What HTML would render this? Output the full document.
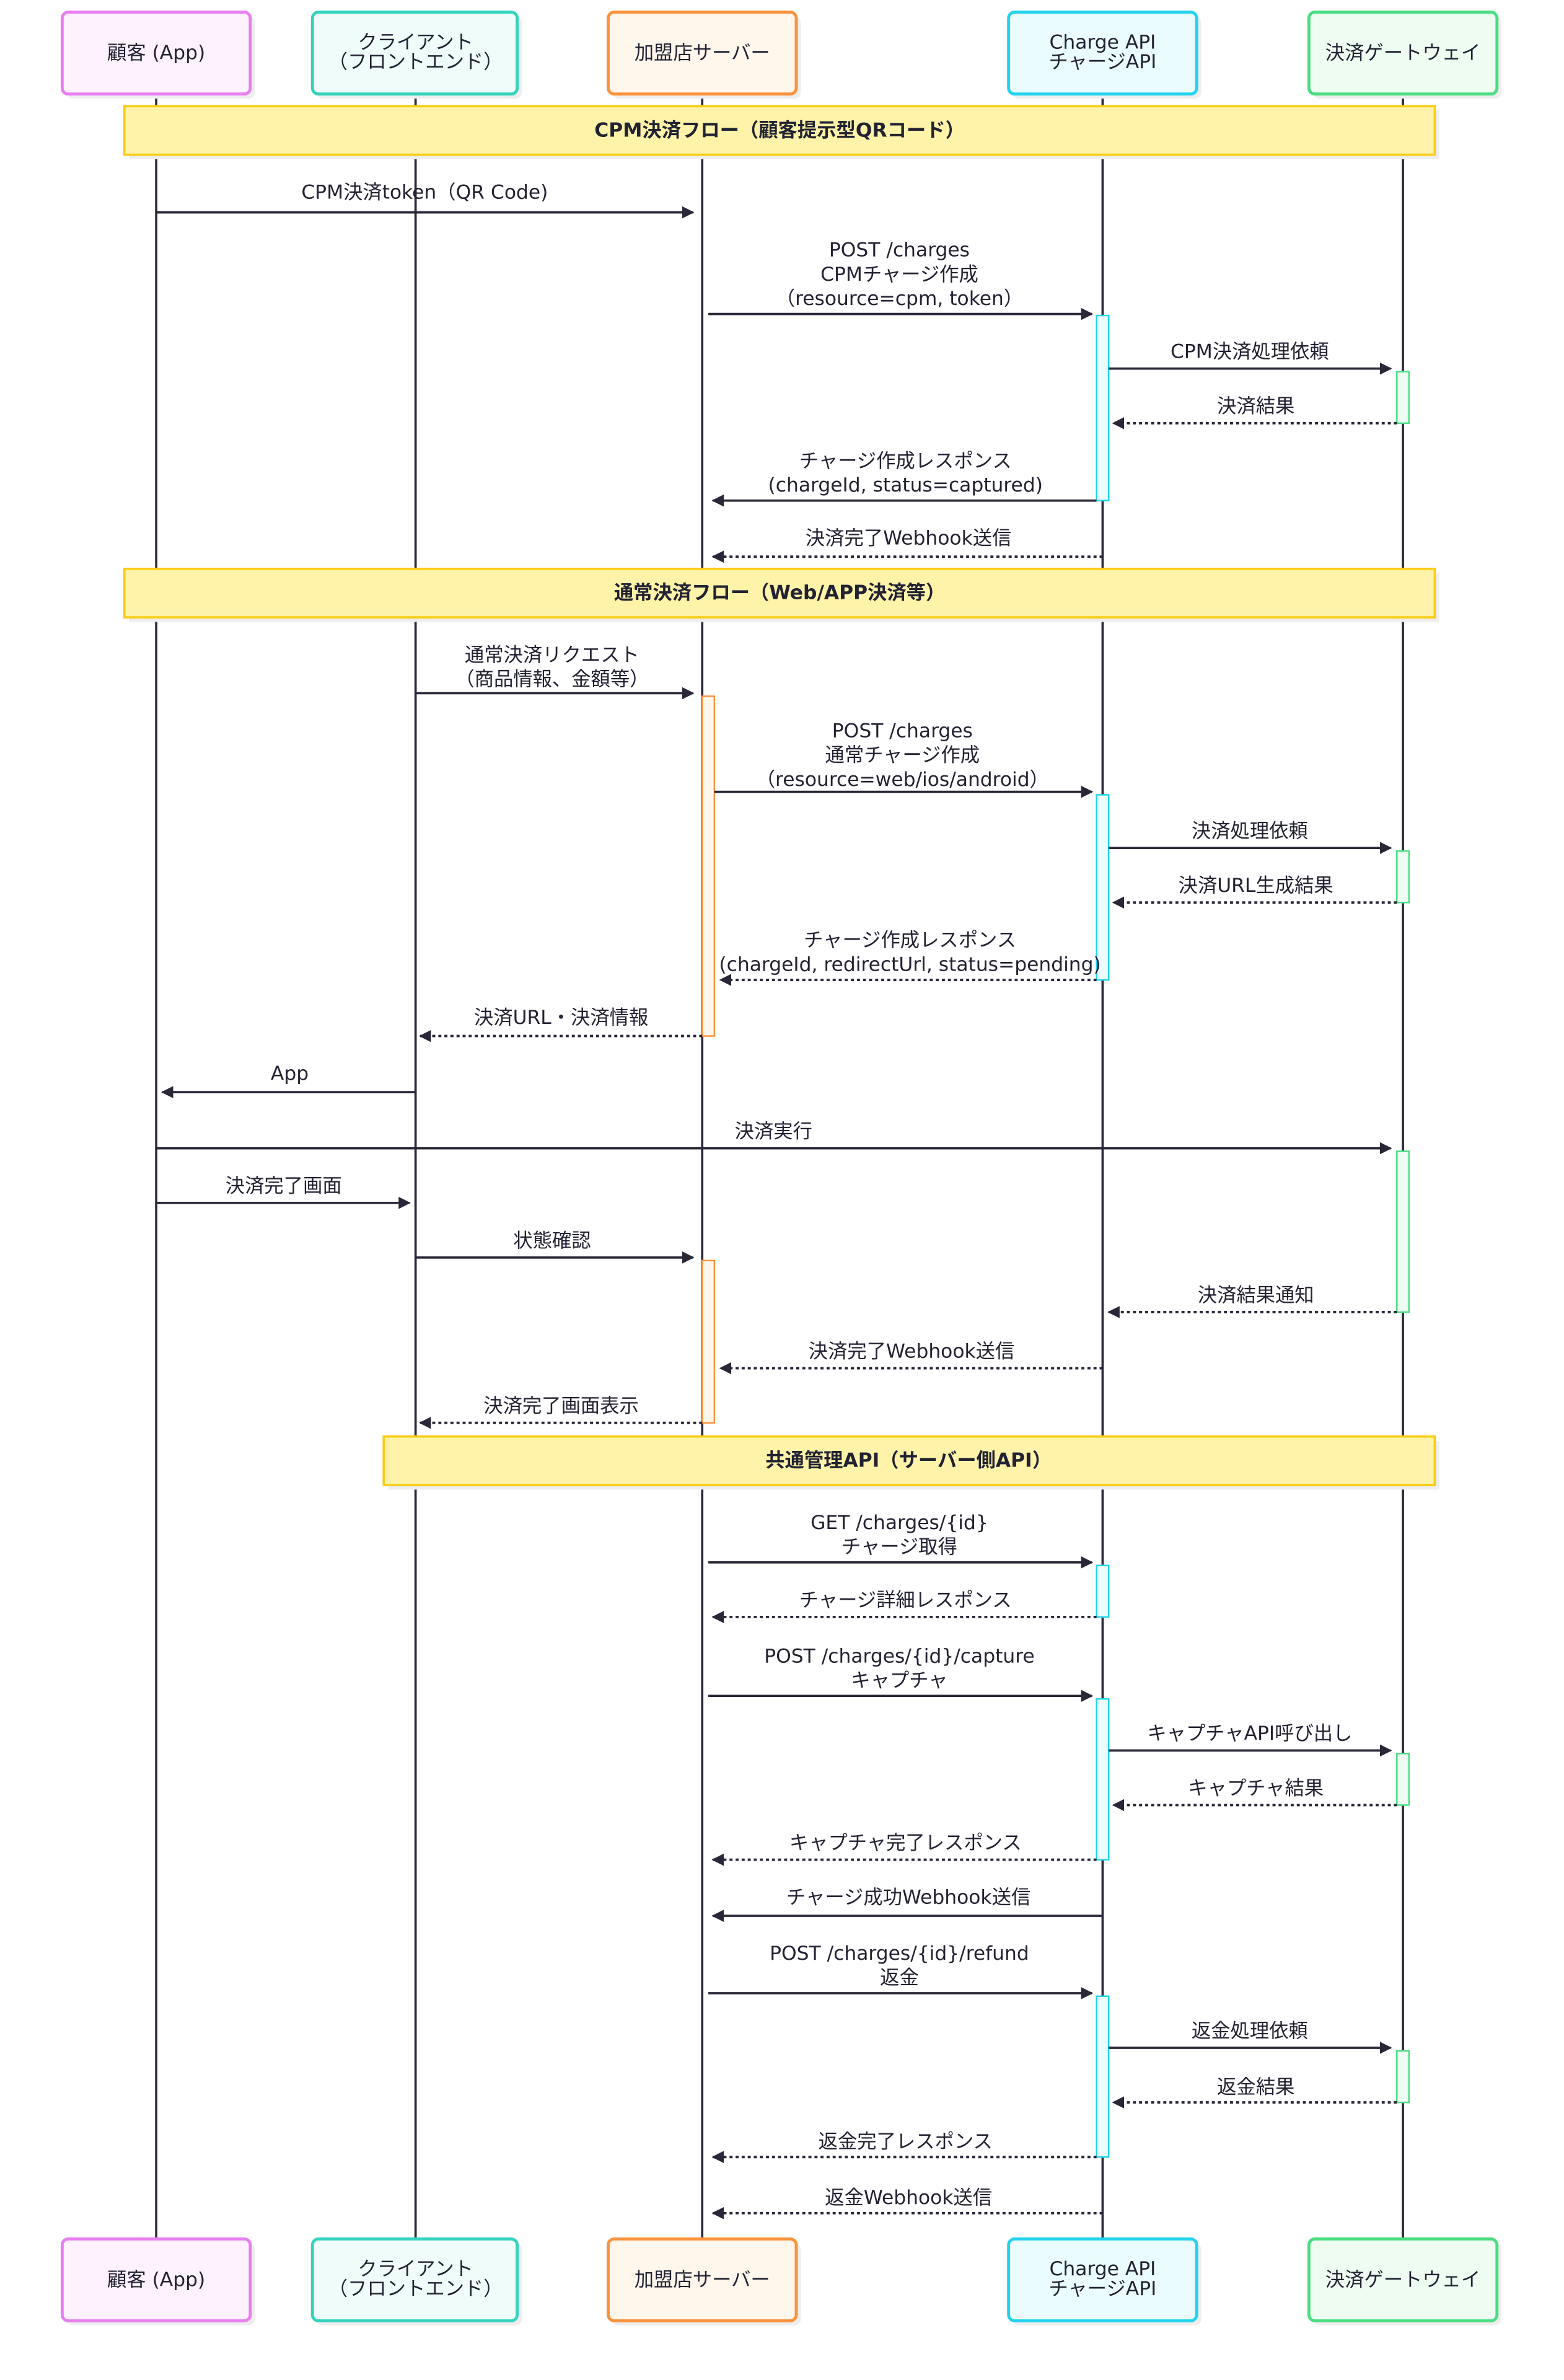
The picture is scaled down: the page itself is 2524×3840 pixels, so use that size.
<!DOCTYPE html>
<html><head><meta charset="utf-8"><style>
html,body{margin:0;padding:0;background:#fff;}
svg{display:block;}
text{font-family:"DejaVu Sans","Noto Sans CJK JP",sans-serif;font-size:12.8px;fill:#222233;text-anchor:middle;}
.b{font-weight:bold;}
.l{stroke:#2a2738;stroke-width:1.5;fill:none;}
.d{stroke:#2a2738;stroke-width:1.6;stroke-dasharray:2,2;fill:none;}
</style></head><body>
<svg width="2524" height="3840" viewBox="0 0 1031.2 1569" preserveAspectRatio="none" xmlns="http://www.w3.org/2000/svg">
<defs>
<marker id="a" viewBox="0 0 10 10" refX="9" refY="5" markerWidth="8" markerHeight="8" orient="auto-start-reverse" markerUnits="userSpaceOnUse"><path d="M0,0 L10,5 L0,10 z" fill="#2a2738"/></marker>
</defs>
<g stroke="#2a2738" stroke-width="1.5">
<line x1="103" y1="62" x2="103" y2="1476"/><line x1="274" y1="62" x2="274" y2="1476"/>
<line x1="463" y1="62" x2="463" y2="1476"/><line x1="727" y1="62" x2="727" y2="1476"/>
<line x1="925" y1="62" x2="925" y2="1476"/>
</g>
<g fill="#eeeeee"><rect x="44" y="11" width="124" height="54" rx="4"/><rect x="209" y="11" width="135" height="54" rx="4"/><rect x="404" y="11" width="124" height="54" rx="4"/><rect x="668" y="11" width="124" height="54" rx="4"/><rect x="866" y="11" width="124" height="54" rx="4"/>
<rect x="44" y="1479" width="124" height="54" rx="4"/><rect x="209" y="1479" width="135" height="54" rx="4"/><rect x="404" y="1479" width="124" height="54" rx="4"/><rect x="668" y="1479" width="124" height="54" rx="4"/><rect x="866" y="1479" width="124" height="54" rx="4"/></g>
<g stroke-width="2">
<rect x="41" y="8" width="124" height="54" rx="4" fill="#fdf2fd" stroke="#e87ef0"/>
<rect x="206" y="8" width="135" height="54" rx="4" fill="#effcf9" stroke="#34d3bd"/>
<rect x="401" y="8" width="124" height="54" rx="4" fill="#fff6ec" stroke="#fb923c"/>
<rect x="665" y="8" width="124" height="54" rx="4" fill="#ebfcfe" stroke="#22d3ee"/>
<rect x="863" y="8" width="124" height="54" rx="4" fill="#eefcf2" stroke="#4ade80"/>
<rect x="41" y="1476" width="124" height="54" rx="4" fill="#fdf2fd" stroke="#e87ef0"/>
<rect x="206" y="1476" width="135" height="54" rx="4" fill="#effcf9" stroke="#34d3bd"/>
<rect x="401" y="1476" width="124" height="54" rx="4" fill="#fff6ec" stroke="#fb923c"/>
<rect x="665" y="1476" width="124" height="54" rx="4" fill="#ebfcfe" stroke="#22d3ee"/>
<rect x="863" y="1476" width="124" height="54" rx="4" fill="#eefcf2" stroke="#4ade80"/>
</g>
<text x="103" y="39">顧客 (App)</text>
<text x="274" y="32">クライアント</text><text x="274" y="45">（フロントエンド）</text>
<text x="463" y="39">加盟店サーバー</text>
<text x="727" y="32">Charge API</text><text x="727" y="45">チャージAPI</text>
<text x="925" y="39">決済ゲートウェイ</text>
<text x="103" y="1507">顧客 (App)</text>
<text x="274" y="1500">クライアント</text><text x="274" y="1513">（フロントエンド）</text>
<text x="463" y="1507">加盟店サーバー</text>
<text x="727" y="1500">Charge API</text><text x="727" y="1513">チャージAPI</text>
<text x="925" y="1507">決済ゲートウェイ</text>
<g fill="#eeeeee"><rect x="85" y="73" width="864" height="32"/><rect x="85" y="378" width="864" height="32"/><rect x="256" y="950" width="693" height="32"/></g>
<g fill="#fef3a8" stroke="#facc15" stroke-width="1.5">
<rect x="82" y="70" width="864" height="32"/><rect x="82" y="375" width="864" height="32"/><rect x="253" y="947" width="693" height="32"/></g>
<text class="b" x="514" y="90">CPM決済フロー（顧客提示型QRコード）</text>
<text class="b" x="514" y="395">通常決済フロー（Web/APP決済等）</text>
<text class="b" x="599" y="967">共通管理API（サーバー側API）</text>
<g stroke-width="1">
<rect x="463" y="459" width="8" height="224" fill="#fff6ec" stroke="#fb923c"/>
<rect x="463" y="831" width="8" height="107" fill="#fff6ec" stroke="#fb923c"/>
<rect x="723" y="208" width="8" height="122" fill="#ebfcfe" stroke="#22d3ee"/>
<rect x="723" y="524" width="8" height="122" fill="#ebfcfe" stroke="#22d3ee"/>
<rect x="723" y="1032" width="8" height="34" fill="#ebfcfe" stroke="#22d3ee"/>
<rect x="723" y="1120" width="8" height="106" fill="#ebfcfe" stroke="#22d3ee"/>
<rect x="723" y="1316" width="8" height="106" fill="#ebfcfe" stroke="#22d3ee"/>
<rect x="921" y="245" width="8" height="34" fill="#eefcf2" stroke="#4ade80"/>
<rect x="921" y="561" width="8" height="34" fill="#eefcf2" stroke="#4ade80"/>
<rect x="921" y="759" width="8" height="106" fill="#eefcf2" stroke="#4ade80"/>
<rect x="921" y="1156" width="8" height="34" fill="#eefcf2" stroke="#4ade80"/>
<rect x="921" y="1352" width="8" height="34" fill="#eefcf2" stroke="#4ade80"/>
</g>
<g marker-end="url(#a)">
<line class="l" x1="103" y1="140" x2="457" y2="140"/>
<line class="l" x1="467" y1="207" x2="720" y2="207"/>
<line class="l" x1="731" y1="243" x2="917" y2="243"/>
<line class="d" x1="921" y1="279" x2="734" y2="279"/>
<line class="l" x1="723" y1="330" x2="470" y2="330"/>
<line class="d" x1="727" y1="367" x2="470" y2="367"/>
<line class="l" x1="274" y1="457" x2="457" y2="457"/>
<line class="l" x1="471" y1="522" x2="720" y2="522"/>
<line class="l" x1="731" y1="559" x2="917" y2="559"/>
<line class="d" x1="921" y1="595" x2="734" y2="595"/>
<line class="d" x1="723" y1="646" x2="475" y2="646"/>
<line class="d" x1="463" y1="683" x2="277" y2="683"/>
<line class="l" x1="274" y1="720" x2="107" y2="720"/>
<line class="l" x1="103" y1="757" x2="917" y2="757"/>
<line class="l" x1="103" y1="793" x2="270" y2="793"/>
<line class="l" x1="274" y1="829" x2="457" y2="829"/>
<line class="d" x1="921" y1="865" x2="731" y2="865"/>
<line class="d" x1="727" y1="902" x2="475" y2="902"/>
<line class="d" x1="463" y1="938" x2="277" y2="938"/>
<line class="l" x1="467" y1="1030" x2="720" y2="1030"/>
<line class="d" x1="723" y1="1066" x2="470" y2="1066"/>
<line class="l" x1="467" y1="1118" x2="720" y2="1118"/>
<line class="l" x1="731" y1="1154" x2="917" y2="1154"/>
<line class="d" x1="921" y1="1190" x2="734" y2="1190"/>
<line class="d" x1="723" y1="1226" x2="470" y2="1226"/>
<line class="l" x1="727" y1="1263" x2="470" y2="1263"/>
<line class="l" x1="467" y1="1314" x2="720" y2="1314"/>
<line class="l" x1="731" y1="1350" x2="917" y2="1350"/>
<line class="d" x1="921" y1="1386" x2="734" y2="1386"/>
<line class="d" x1="723" y1="1422" x2="470" y2="1422"/>
<line class="d" x1="727" y1="1459" x2="470" y2="1459"/>
</g>
<text x="280" y="131">CPM決済token（QR Code)</text>
<text x="593" y="169">POST /charges</text><text x="593" y="185">CPMチャージ作成</text><text x="593" y="201">（resource=cpm, token）</text>
<text x="824" y="236">CPM決済処理依頼</text>
<text x="828" y="272">決済結果</text>
<text x="597" y="308">チャージ作成レスポンス</text><text x="597" y="324">(chargeId, status=captured)</text>
<text x="599" y="359">決済完了Webhook送信</text>
<text x="364" y="436">通常決済リクエスト</text><text x="364" y="452">（商品情報、金額等）</text>
<text x="595" y="486">POST /charges</text><text x="595" y="502">通常チャージ作成</text><text x="595" y="518">（resource=web/ios/android）</text>
<text x="824" y="552">決済処理依頼</text>
<text x="828" y="588">決済URL生成結果</text>
<text x="600" y="624">チャージ作成レスポンス</text><text x="600" y="640">(chargeId, redirectUrl, status=pending)</text>
<text x="370" y="675">決済URL・決済情報</text>
<text x="191" y="712">App</text>
<text x="510" y="750">決済実行</text>
<text x="187" y="786">決済完了画面</text>
<text x="364" y="822">状態確認</text>
<text x="828" y="858">決済結果通知</text>
<text x="601" y="895">決済完了Webhook送信</text>
<text x="370" y="931">決済完了画面表示</text>
<text x="593" y="1008">GET /charges/{id}</text><text x="593" y="1024">チャージ取得</text>
<text x="597" y="1059">チャージ詳細レスポンス</text>
<text x="593" y="1096">POST /charges/{id}/capture</text><text x="593" y="1112">キャプチャ</text>
<text x="824" y="1147">キャプチャAPI呼び出し</text>
<text x="828" y="1183">キャプチャ結果</text>
<text x="597" y="1219">キャプチャ完了レスポンス</text>
<text x="599" y="1255">チャージ成功Webhook送信</text>
<text x="593" y="1292">POST /charges/{id}/refund</text><text x="593" y="1308">返金</text>
<text x="824" y="1343">返金処理依頼</text>
<text x="828" y="1380">返金結果</text>
<text x="597" y="1416">返金完了レスポンス</text>
<text x="599" y="1453">返金Webhook送信</text>
</svg>
</body></html>
